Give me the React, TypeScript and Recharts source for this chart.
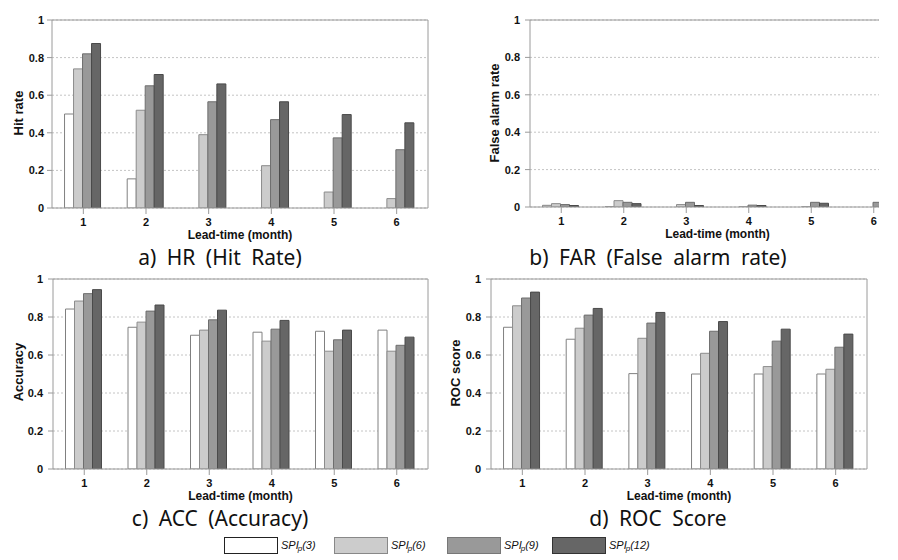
import React from "react";
import { BarChart, Bar, XAxis, YAxis, CartesianGrid, ReferenceLine } from "recharts";

const leadTimes = ["1", "2", "3", "4", "5", "6"];
const yTicks = [0, 0.2, 0.4, 0.6, 0.8, 1];

// a) HR
const hr3 = [0.5, 0.155, 0, 0, 0, 0];
const hr6 = [0.74, 0.52, 0.39, 0.225, 0.085, 0.05];
const hr9 = [0.82, 0.65, 0.565, 0.47, 0.373, 0.31];
const hr12 = [0.875, 0.71, 0.66, 0.565, 0.497, 0.453];

// b) FAR
const far3 = [0.009, 0.001, 0, 0, 0, 0];
const far6 = [0.018, 0.034, 0.013, 0.001, 0.001, 0];
const far9 = [0.013, 0.025, 0.025, 0.01, 0.025, 0.025];
const far12 = [0.008, 0.018, 0.008, 0.008, 0.02, 0.02];

// c) ACC
const acc3 = [0.842, 0.746, 0.704, 0.72, 0.725, 0.731];
const acc6 = [0.884, 0.773, 0.731, 0.673, 0.62, 0.62];
const acc9 = [0.923, 0.831, 0.785, 0.736, 0.68, 0.651];
const acc12 = [0.944, 0.863, 0.836, 0.782, 0.731, 0.694];

// d) ROC score
const roc3 = [0.746, 0.683, 0.502, 0.5, 0.5, 0.5];
const roc6 = [0.859, 0.741, 0.688, 0.609, 0.539, 0.525];
const roc9 = [0.9, 0.81, 0.768, 0.725, 0.673, 0.641];
const roc12 = [0.931, 0.845, 0.824, 0.776, 0.736, 0.71];

const seriesNames = ["3", "6", "9", "12"];
const fills = ["#ffffff", "#cccccc", "#999999", "#666666"];
const strokes = ["#808080", "#8c8c8c", "#6e6e6e", "#4a4a4a"];
const legendBorders = ["#222222", "#888888", "#777777", "#333333"];

const AXIS = "#9a9a9a";
const FONT = "Arial, 'Liberation Sans', sans-serif";

type PanelProps = {
  series: number[][];
  width: number;
  height: number;
  margin: { top: number; right: number; bottom: number; left: number };
  yWidth: number;
  yTickMargin: number;
};

function Panel({ series, width, height, margin, yWidth, yTickMargin }: PanelProps) {
  const data = leadTimes.map((t, i) => ({
    lead: t,
    s3: series[0][i],
    s6: series[1][i],
    s9: series[2][i],
    s12: series[3][i],
  }));
  const tickStyle = { fill: "#111", fontSize: 11, fontWeight: "bold" as const, fontFamily: FONT };
  const labelStyle = { fill: "#111", fontSize: 12, fontWeight: "bold" as const, fontFamily: FONT };

  return (
    <BarChart width={width} height={height} data={data} margin={margin} barCategoryGap="20%" barGap={0}>
      <CartesianGrid vertical={false} strokeDasharray="2 2" stroke="#c4c4c4" />
      <XAxis
        dataKey="lead"
        height={36}
        tickSize={6}
        tickMargin={4}
        stroke={AXIS}
        tick={tickStyle}
        interval={0}
        label={{
          value: "Lead-time (month)",
          position: "insideBottom",
          offset: 5,
          ...labelStyle,
          style: labelStyle,
        }}
      />
      <YAxis
        domain={[0, 1]}
        ticks={yTicks}
        width={yWidth}
        tickSize={5}
        tickMargin={yTickMargin}
        stroke={AXIS}
        tick={tickStyle}
        allowDataOverflow
      />
      <YAxis yAxisId="r" orientation="right" domain={[0, 1]} width={1} tick={false} tickLine={false} stroke={AXIS} />
      <ReferenceLine y={1} stroke={AXIS} />
      {seriesNames.map((n, i) => (
        <Bar key={n} dataKey={`s${n}`} fill={fills[i]} stroke={strokes[i]} strokeWidth={1} isAnimationActive={false} />
      ))}
    </BarChart>
  );
}

// rotated y-axis title, centred on (x, y)
function YTitle({ text, x, y }: { text: string; x: number; y: number }) {
  return (
    <div
      style={{
        position: "absolute",
        left: x,
        top: y,
        transform: "translate(-50%, -50%) rotate(-90deg)",
        fontFamily: FONT,
        fontWeight: "bold",
        fontSize: 13,
        lineHeight: "14px",
        whiteSpace: "nowrap",
        color: "#111",
      }}
    >
      {text}
    </div>
  );
}

const titleStyle: React.CSSProperties = {
  position: "absolute",
  textAlign: "center",
  fontFamily: "'Noto Sans', 'DejaVu Sans', sans-serif",
  fontSize: 21,
  wordSpacing: 5,
  lineHeight: "24px",
  color: "#111",
  whiteSpace: "nowrap",
};

function Legend() {
  const xs = [224, 334, 447, 552];
  return (
    <>
      {seriesNames.map((n, i) => (
        <React.Fragment key={n}>
          <div
            style={{
              position: "absolute",
              left: xs[i],
              top: 537,
              width: 52,
              height: 15,
              background: fills[i],
              border: `1px solid ${legendBorders[i]}`,
            }}
          />
          <div
            style={{
              position: "absolute",
              left: xs[i] + 57,
              top: 537,
              lineHeight: "16px",
              fontSize: 11,
              fontStyle: "italic",
              fontFamily: FONT,
              color: "#111",
            }}
          >
            SPI<sub style={{ fontSize: 8, verticalAlign: -2, marginLeft: -1 }}>p</sub>({n})
          </div>
        </React.Fragment>
      ))}
    </>
  );
}

export default function App() {
  return (
    <div
      style={{
        position: "absolute",
        left: 0,
        top: 0,
        width: 898,
        height: 560,
        overflow: "hidden",
        background: "#fff",
        fontFamily: FONT,
      }}
    >
      <div style={{ position: "absolute", left: 0, top: 0 }}>
        <Panel
          series={[hr3, hr6, hr9, hr12]}
          width={450}
          height={250}
          margin={{ top: 20, right: 21, bottom: 6, left: 10 }}
          yWidth={42}
          yTickMargin={3}
        />
      </div>
      <div style={{ position: "absolute", left: 448, top: 0, width: 431, height: 250, overflow: "hidden" }}>
        <Panel
          series={[far3, far6, far9, far12]}
          width={479}
          height={250}
          margin={{ top: 20, right: 21, bottom: 7, left: 36 }}
          yWidth={46}
          yTickMargin={5}
        />
      </div>
      <div style={{ position: "absolute", left: 0, top: 259 }}>
        <Panel
          series={[acc3, acc6, acc9, acc12]}
          width={450}
          height={252}
          margin={{ top: 20, right: 21, bottom: 6, left: 10 }}
          yWidth={43}
          yTickMargin={5}
        />
      </div>
      <div style={{ position: "absolute", left: 448, top: 259 }}>
        <Panel
          series={[roc3, roc6, roc9, roc12]}
          width={450}
          height={252}
          margin={{ top: 20, right: 30, bottom: 6, left: 0 }}
          yWidth={43}
          yTickMargin={5}
        />
      </div>
      <YTitle text="Hit rate" x={19} y={113} />
      <YTitle text="False alarm rate" x={495} y={113} />
      <YTitle text="Accuracy" x={19} y={372} />
      <YTitle text="ROC score" x={456} y={373} />
      <div style={{ ...titleStyle, left: 0, width: 440, top: 245 }}>a) HR (Hit Rate)</div>
      <div style={{ ...titleStyle, left: 448, width: 420, top: 245 }}>b) FAR (False alarm rate)</div>
      <div style={{ ...titleStyle, left: 0, width: 440, top: 506 }}>c) ACC (Accuracy)</div>
      <div style={{ ...titleStyle, left: 448, width: 420, top: 506 }}>d) ROC Score</div>
      <Legend />
    </div>
  );
}
